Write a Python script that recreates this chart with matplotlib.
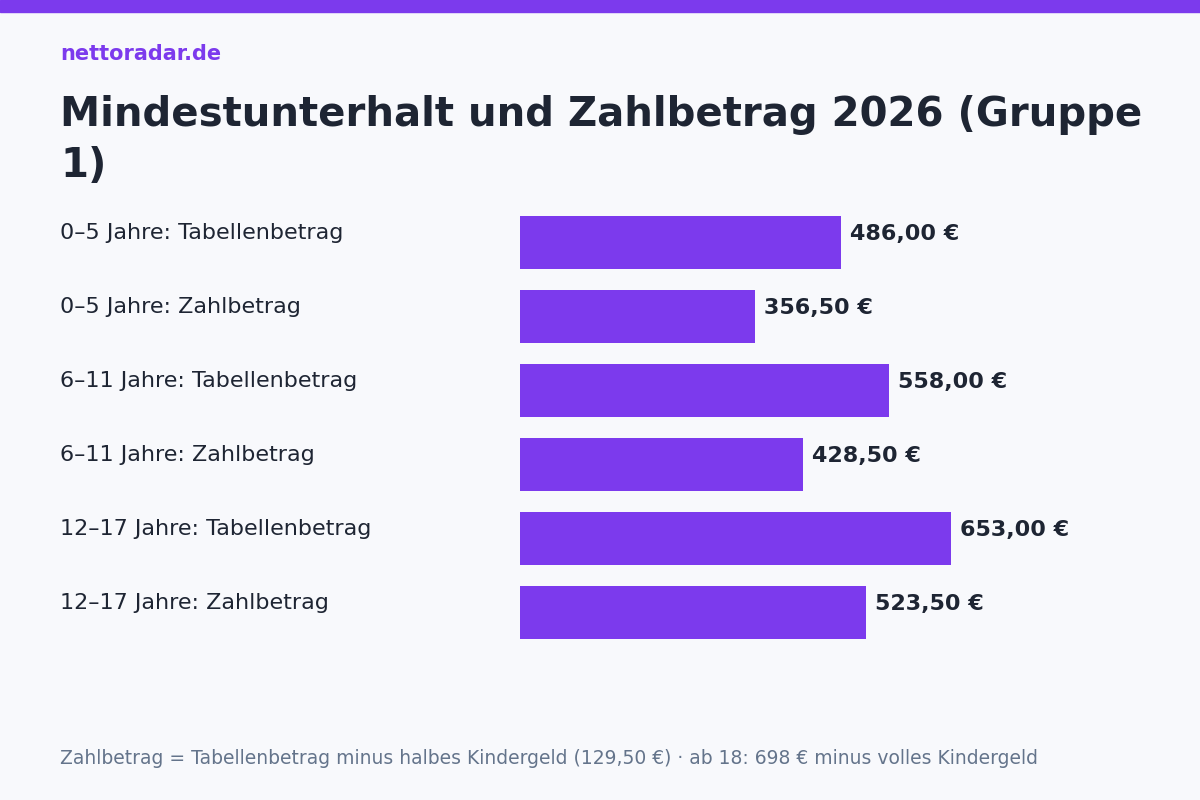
import matplotlib
matplotlib.use('Agg')
from matplotlib import pyplot as plt

# Data
labels = ['0–5 Jahre: Tabellenbetrag', '0–5 Jahre: Zahlbetrag',
          '6–11 Jahre: Tabellenbetrag', '6–11 Jahre: Zahlbetrag',
          '12–17 Jahre: Tabellenbetrag', '12–17 Jahre: Zahlbetrag']
values = [486.00, 356.50, 558.00, 428.50, 653.00, 523.50]

purple = '#7c3aed'
dark = '#1e2533'
bg = '#f8f9fc'

W, H = 1200, 800
fig = plt.figure(figsize=(12, 8), dpi=100, facecolor=bg)

# top stripe
fig.patches.append(plt.Rectangle((0, 1 - 12 / H), 1, 12 / H, transform=fig.transFigure,
                                 color=purple, zorder=5))

fig.text(60 / W, 1 - 54 / H, 'nettoradar.de', color=purple, fontsize=15,
         fontweight='bold', va='center')
fig.text(60 / W, 1 - 115 / H, 'Mindestunterhalt und Zahlbetrag 2026 (Gruppe',
         color=dark, fontsize=29, fontweight='bold', va='center')
fig.text(60 / W, 1 - 166 / H, '1)', color=dark, fontsize=29, fontweight='bold', va='center')

# bar axes: left edge 520px, 0.6605 px per euro
ax_left, ax_w = 520, 600
scale = 321 / 486
top, bottom = 205.5, 649.5
ax = fig.add_axes([ax_left / W, 1 - bottom / H, ax_w / W, (bottom - top) / H])
ax.set_facecolor(bg)
ax.set_xlim(0, ax_w / scale)
ax.set_ylim(5.5, -0.5)
ax.barh(range(len(values)), values, height=53 / 74, color=purple)
ax.axis('off')

for i, (lab, v) in enumerate(zip(labels, values)):
    ax.text(v + 9 / scale, i - 0.12, f'{v:.2f}'.replace('.', ',') + ' €',
            color=dark, fontsize=16, fontweight='bold', va='center')
    fig.text(60 / W, 1 - (233 + 74 * i) / H, lab, color=dark, fontsize=16, va='center')

fig.text(60 / W, 1 - 758 / H,
         'Zahlbetrag = Tabellenbetrag minus halbes Kindergeld (129,50 €) · ab 18: 698 € minus volles Kindergeld',
         color='#64748b', fontsize=13.5, va='center')

fig.savefig('out.png', dpi=100, facecolor=bg)
